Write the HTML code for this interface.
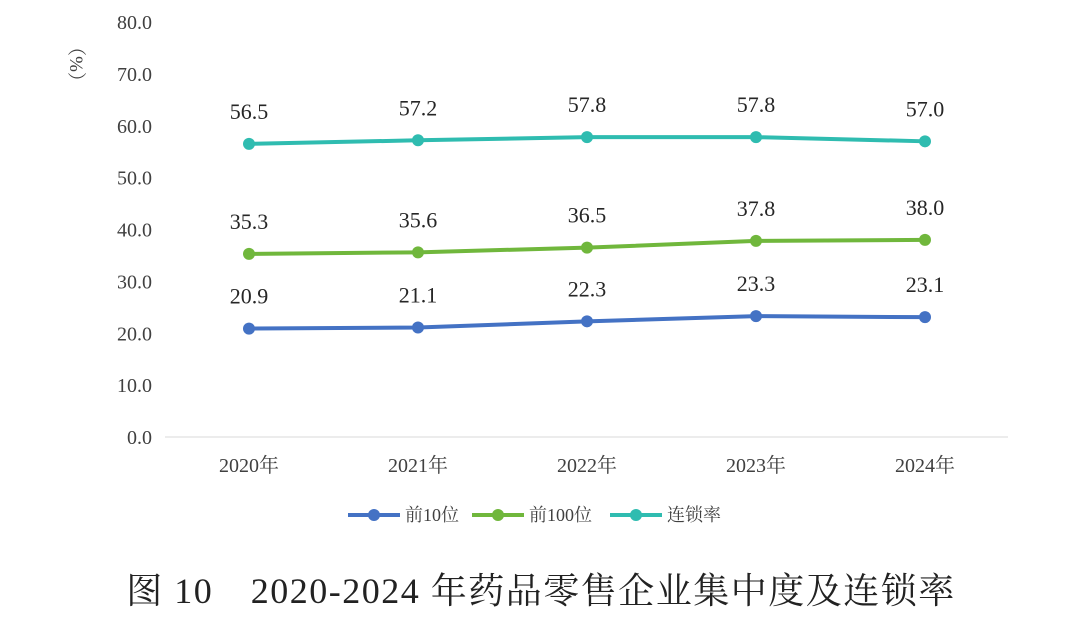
<!DOCTYPE html>
<html><head><meta charset="utf-8"><style>
body{margin:0;background:#fff;width:1080px;height:638px;overflow:hidden}
text{font-family:"Liberation Serif","Noto Serif CJK SC",serif}
</style></head><body>
<svg id="chart" width="1080" height="638" xmlns="http://www.w3.org/2000/svg"></svg>
<script>
const categories=["2020年","2021年","2022年","2023年","2024年"];
const top10=[20.9,21.1,22.3,23.3,23.1];
const top100=[35.3,35.6,36.5,37.8,38.0];
const chain=[56.5,57.2,57.8,57.8,57.0];
const yTicks=[0,10,20,30,40,50,60,70,80];
const seriesNames=["前10位","前100位","连锁率"];
const colors=["#4472c4","#70b73c","#2fbcb0"];
const svg=document.getElementById('chart');
const NS="http://www.w3.org/2000/svg";
const x0=249,dx=169,yBase=437,pxPer=5.1875;
const xs=i=>x0+i*dx;
const ys=v=>yBase-v*pxPer;
function mk(tag,attrs,txt){const e=document.createElementNS(NS,tag);for(const k in attrs)e.setAttribute(k,attrs[k]);if(txt!==undefined)e.textContent=txt;svg.appendChild(e);return e;}
let e=mk('line',{x1:165,x2:1008,y1:yBase,y2:yBase,stroke:'#d9d9d9','stroke-width':1});


yTicks.forEach(t=>{const l=mk('text',{x:152,y:ys(t)+7,'text-anchor':'end','font-size':20,fill:'#404040'},t.toFixed(1));

});
e=mk('text',{x:0,y:0,'font-size':19,fill:'#404040',transform:'translate(70,64) rotate(90)','text-anchor':'middle'},'（%）');


categories.forEach((c,i)=>{const l=mk('text',{x:xs(i),y:472,'text-anchor':'middle','font-size':20,fill:'#404040'},c);

});
[top10,top100,chain].forEach((s,si)=>{
 const p=mk('polyline',{points:s.map((v,i)=>xs(i)+','+ys(v)).join(' '),fill:'none',stroke:colors[si],'stroke-width':4});
 
 
 s.forEach((v,i)=>{
  const c=mk('circle',{cx:xs(i),cy:ys(v),r:6,fill:colors[si]});
  
  
  const t=mk('text',{x:xs(i),y:ys(v)-25,'text-anchor':'middle','font-size':22,fill:'#262626'},v.toFixed(1));
  
  
 });
});
const legX=[348,472,610];
seriesNames.forEach((n,i)=>{
 const g=legX[i];
 let l=mk('line',{x1:g,x2:g+52,y1:515,y2:515,stroke:colors[i],'stroke-width':4});
 
 
 let c=mk('circle',{cx:g+26,cy:515,r:6,fill:colors[i]});
 
 
 let t=mk('text',{x:g+57,y:521,'font-size':18,fill:'#404040'},n);
 
 
});
e=mk('text',{x:541,y:603,'text-anchor':'middle','font-size':36,'letter-spacing':1.5,fill:'#222'},'图 10　2020-2024 年药品零售企业集中度及连锁率');


</script>
</body></html>
